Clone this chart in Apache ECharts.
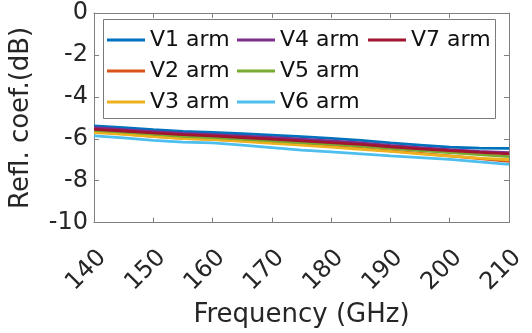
<!DOCTYPE html>
<html><head><meta charset="utf-8">
<script src="https://cdn.jsdelivr.net/npm/echarts@6/dist/echarts.min.js"></script>
<style>html,body{margin:0;padding:0;background:#fff}#c{width:532px;height:333px}</style>
</head><body><div id="c"></div>
<script>
const freq = [140,145,150,155,160,165,170,175,180,185,190,195,200,205,210];
const V1 = [-5.38,-5.47,-5.57,-5.65,-5.70,-5.76,-5.83,-5.90,-5.98,-6.08,-6.20,-6.30,-6.40,-6.45,-6.46];
const V2 = [-5.66,-5.76,-5.88,-5.98,-6.03,-6.10,-6.18,-6.27,-6.36,-6.46,-6.58,-6.70,-6.82,-6.95,-7.08];
const V3 = [-5.70,-5.79,-5.90,-5.99,-6.04,-6.12,-6.22,-6.30,-6.40,-6.50,-6.60,-6.72,-6.83,-6.92,-7.00];
const V4 = [-5.47,-5.56,-5.66,-5.74,-5.80,-5.87,-5.94,-6.02,-6.10,-6.20,-6.32,-6.42,-6.52,-6.60,-6.66];
const V5 = [-5.60,-5.68,-5.78,-5.88,-5.95,-6.02,-6.10,-6.18,-6.26,-6.35,-6.46,-6.56,-6.66,-6.76,-6.85];
const V6 = [-5.86,-5.96,-6.08,-6.16,-6.20,-6.30,-6.42,-6.54,-6.63,-6.72,-6.82,-6.90,-6.98,-7.10,-7.22];
const V7 = [-5.55,-5.63,-5.72,-5.80,-5.86,-5.94,-6.02,-6.10,-6.18,-6.27,-6.38,-6.48,-6.57,-6.65,-6.72];
const names = ['V1 arm','V2 arm','V3 arm','V4 arm','V5 arm','V6 arm','V7 arm'];
const values = [V1,V2,V3,V4,V5,V6,V7];
const colors = ['#0072BD','#D95319','#EDB120','#7E2F8E','#77AC30','#4DBEEE','#A2142F'];

const FONT = 'DejaVu Sans';
const TXT = '#262626';
const AX = '#808080';
const chart = echarts.init(document.getElementById('c'), null, {renderer:'canvas'});
const series = names.map((n,i)=>({
  name:n, type:'line', xAxisIndex:0, yAxisIndex:0,
  data: freq.map((f,k)=>[f, values[i][k]]),
  showSymbol:false, symbol:'none', smooth:false,
  lineStyle:{width:2.8, color:colors[i]}, itemStyle:{color:colors[i]},
  z: 2+i, animation:false
}));
function leg(data, left){
  return {data, left, top:28, orient:'vertical', itemGap:7, itemWidth:38, itemHeight:3,
    icon:'rect', padding:0, textStyle:{fontFamily:FONT, fontSize:22, color:'#111', lineHeight:24},
    selectedMode:false, z:60};
}
chart.setOption({
  animation:false,
  backgroundColor:'#fff',
  grid:{left:85, right:23, top:13, bottom:110, containLabel:false},
  graphic:[{type:'rect', shape:{x:103.5,y:19.5,width:392,height:99}, style:{fill:'#fff', stroke:'#7a7a7a', lineWidth:1}, z:50}],
  legend:[leg(['V1 arm','V2 arm','V3 arm'],107), leg(['V4 arm','V5 arm','V6 arm'],237), leg(['V7 arm'],368)],
  xAxis:[{type:'value', min:140, max:210, interval:10, position:'bottom',
    name:'Frequency (GHz)', nameLocation:'middle', nameGap:76,
    nameTextStyle:{fontFamily:FONT, fontSize:26, color:TXT},
    axisLine:{show:true, onZero:false, lineStyle:{color:AX, width:1}},
    axisTick:{show:true, inside:true, length:5, lineStyle:{color:AX}},
    axisLabel:{fontFamily:FONT, fontSize:24, color:TXT, rotate:45, align:'right', verticalAlign:'top', margin:23},
    splitLine:{show:false}},
   {type:'value', min:140, max:210, interval:10, position:'top',
    axisLine:{show:true, onZero:false, lineStyle:{color:AX, width:1}},
    axisTick:{show:true, inside:true, length:5, lineStyle:{color:AX}},
    axisLabel:{show:false}, splitLine:{show:false}}],
  yAxis:[{type:'value', min:-10, max:0, interval:2, position:'left',
    name:'Refl. coef.(dB)', nameLocation:'middle', nameGap:60,
    nameTextStyle:{fontFamily:FONT, fontSize:26, color:TXT},
    axisLine:{show:true, onZero:false, lineStyle:{color:AX, width:1}},
    axisTick:{show:true, inside:true, length:5, lineStyle:{color:AX}},
    axisLabel:{fontFamily:FONT, fontSize:24, color:TXT, margin:6},
    splitLine:{show:false}},
   {type:'value', min:-10, max:0, interval:2, position:'right',
    axisLine:{show:true, onZero:false, lineStyle:{color:AX, width:1}},
    axisTick:{show:true, inside:true, length:5, lineStyle:{color:AX}},
    axisLabel:{show:false}, splitLine:{show:false}}],
  series
});
</script></body></html>
